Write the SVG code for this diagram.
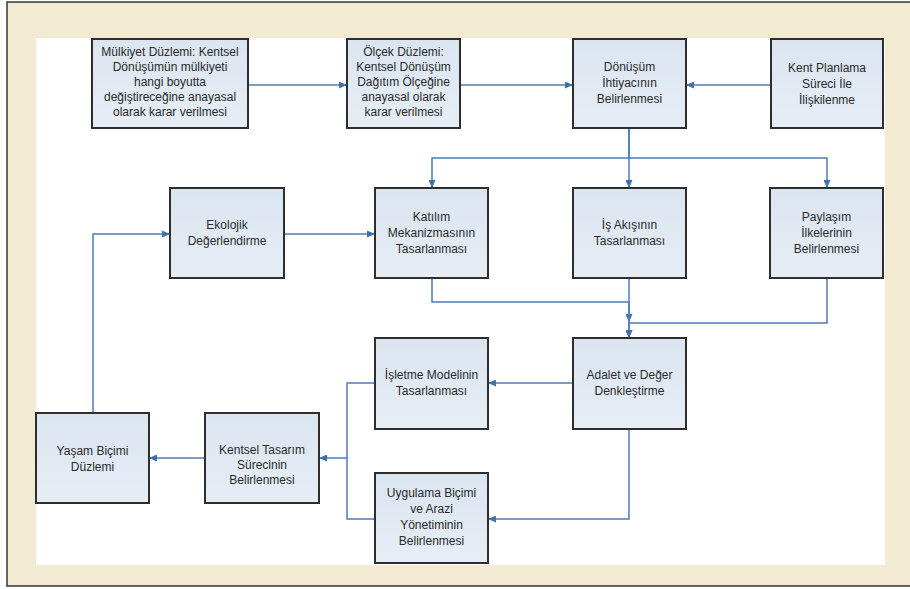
<svg xmlns="http://www.w3.org/2000/svg" width="910" height="589" viewBox="0 0 910 589">
<defs>
<marker id="ah" markerWidth="8" markerHeight="7" refX="8" refY="3.5" orient="auto" markerUnits="userSpaceOnUse">
<path d="M0,0 L8,3.5 L0,7 z" fill="#3f72ad"/>
</marker>
<linearGradient id="bg" x1="0" y1="0" x2="0" y2="1">
<stop offset="0" stop-color="#dbe5f0"/>
<stop offset="1" stop-color="#e6edf5"/>
</linearGradient>
<style>
.box{fill:url(#bg);stroke:#2e2e2e;stroke-width:2}
.t{font-family:"Liberation Sans",Arial,sans-serif;font-size:12px;fill:#2a2a2a;text-anchor:middle}
.c{fill:none;stroke:#4f7db5;stroke-width:1.5}
.a{marker-end:url(#ah)}
</style>
</defs>
<rect x="7" y="2" width="903" height="584" fill="#f3ead2"/>
<path d="M910,2 H7 V586 H910" fill="none" stroke="#333" stroke-width="1.5"/>
<rect x="36" y="38" width="849" height="527" fill="#ffffff"/>

<g id="connectors">
<path class="c a" d="M248,85 H347"/>
<path class="c a" d="M460,85 H573"/>
<path class="c a" d="M771,85 H686"/>
<path class="c a" d="M629,128 V158 H432 V188"/>
<path class="c a" d="M629,128 V188"/>
<path class="c a" d="M629,158 H827 V188"/>
<path class="c a" d="M284,234 H375"/>
<path class="c a" d="M93,413 V234 H170"/>
<path class="c a" d="M432,278 V302 H629 V322"/>
<path class="c a" d="M629,278 V338"/>
<path class="c a" d="M827,278 V323 H629 V338"/>
<path class="c a" d="M573,383 H488"/>
<path class="c a" d="M629,429 V519 H488"/>
<path class="c a" d="M375,383 H347 V458 H319"/>
<path class="c" d="M375,519 H347 V458"/>
<path class="c a" d="M205,458 H149"/>
</g>

<g id="n-mulkiyet">
<rect class="box" x="92" y="39" width="156" height="89"/>
<text class="t" x="170" y="56">Mülkiyet Düzlemi: Kentsel<tspan x="170" dy="15">Dönüşümün mülkiyeti</tspan><tspan x="170" dy="15">hangi boyutta</tspan><tspan x="170" dy="15">değiştireceğine anayasal</tspan><tspan x="170" dy="15">olarak karar verilmesi</tspan></text>
</g>
<g id="n-olcek">
<rect class="box" x="347" y="39" width="113" height="89"/>
<text class="t" x="403.5" y="56">Ölçek Düzlemi:<tspan x="403.5" dy="15">Kentsel Dönüşüm</tspan><tspan x="403.5" dy="15">Dağıtım Ölçeğine</tspan><tspan x="403.5" dy="15">anayasal olarak</tspan><tspan x="403.5" dy="15">karar verilmesi</tspan></text>
</g>
<g id="n-donusum">
<rect class="box" x="573" y="39" width="113" height="89"/>
<text class="t" x="629.5" y="71">Dönüşüm<tspan x="629.5" dy="16">İhtiyacının</tspan><tspan x="629.5" dy="16">Belirlenmesi</tspan></text>
</g>
<g id="n-kent">
<rect class="box" x="771" y="39" width="112" height="89"/>
<text class="t" x="827" y="72">Kent Planlama<tspan x="827" dy="16">Süreci İle</tspan><tspan x="827" dy="16">İlişkilenme</tspan></text>
</g>
<g id="n-ekolojik">
<rect class="box" x="170" y="188" width="114" height="90"/>
<text class="t" x="227" y="229">Ekolojik<tspan x="227" dy="16">Değerlendirme</tspan></text>
</g>
<g id="n-katilim">
<rect class="box" x="375" y="188" width="113" height="90"/>
<text class="t" x="431.5" y="221">Katılım<tspan x="431.5" dy="16">Mekanizmasının</tspan><tspan x="431.5" dy="16">Tasarlanması</tspan></text>
</g>
<g id="n-isakisi">
<rect class="box" x="573" y="188" width="113" height="90"/>
<text class="t" x="629.5" y="229">İş Akışının<tspan x="629.5" dy="16">Tasarlanması</tspan></text>
</g>
<g id="n-paylasim">
<rect class="box" x="770" y="188" width="113" height="90"/>
<text class="t" x="826.5" y="221">Paylaşım<tspan x="826.5" dy="16">İlkelerinin</tspan><tspan x="826.5" dy="16">Belirlenmesi</tspan></text>
</g>
<g id="n-adalet">
<rect class="box" x="573" y="338" width="113" height="91"/>
<text class="t" x="629.5" y="379">Adalet ve Değer<tspan x="629.5" dy="16">Denkleştirme</tspan></text>
</g>
<g id="n-isletme">
<rect class="box" x="375" y="338" width="113" height="91"/>
<text class="t" x="431.5" y="379">İşletme Modelinin<tspan x="431.5" dy="16">Tasarlanması</tspan></text>
</g>
<g id="n-uygulama">
<rect class="box" x="375" y="473" width="113" height="90"/>
<text class="t" x="431.5" y="497">Uygulama Biçimi<tspan x="431.5" dy="16">ve Arazi</tspan><tspan x="431.5" dy="16">Yönetiminin</tspan><tspan x="431.5" dy="16">Belirlenmesi</tspan></text>
</g>
<g id="n-kentsel">
<rect class="box" x="205" y="413" width="114" height="90"/>
<text class="t" x="262" y="454">Kentsel Tasarım<tspan x="262" dy="15">Sürecinin</tspan><tspan x="262" dy="15">Belirlenmesi</tspan></text>
</g>
<g id="n-yasam">
<rect class="box" x="36" y="413" width="113" height="90"/>
<text class="t" x="92.5" y="455">Yaşam Biçimi<tspan x="92.5" dy="16">Düzlemi</tspan></text>
</g>
</svg>
